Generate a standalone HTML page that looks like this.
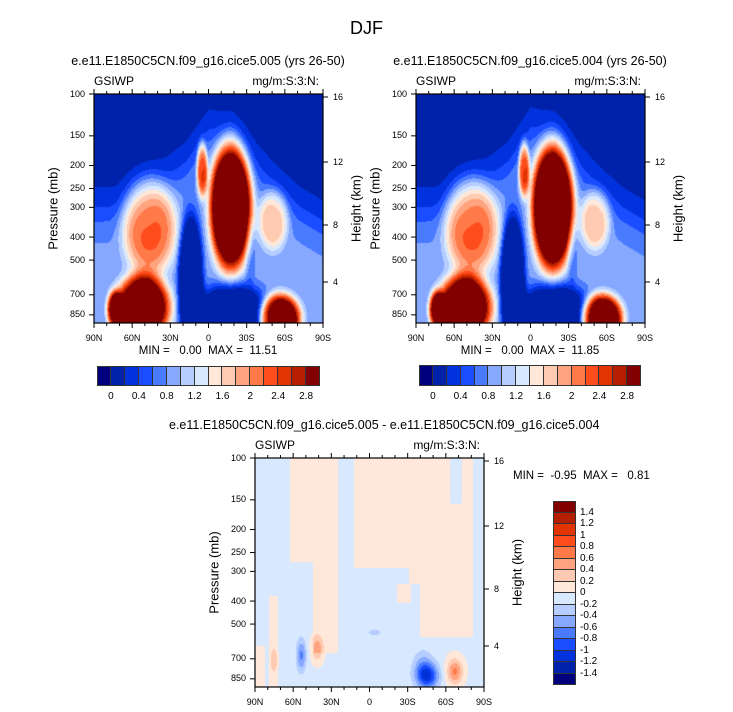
<!DOCTYPE html>
<html><head><meta charset="utf-8"><style>
html,body{margin:0;background:#fff;width:733px;height:712px;overflow:hidden;font-family:"Liberation Sans",sans-serif;}
#root{position:relative;width:733px;height:712px;overflow:hidden;}
.t{position:absolute;white-space:nowrap;color:#000;}
canvas{position:absolute;}
</style></head><body>
<div id="root">
<div class="t" style="left:0;width:733px;text-align:center;top:18px;font-size:18px;">DJF</div>
</div>
<script>
// ---- data ----
const xTickLabels=['90N','60N','30N','0','30S','60S','90S'];
const pTicks=[100,150,200,250,300,400,500,700,850];
const hTicks=[16,12,8,4];
const hTickY=[97,162,225,282];
const topLevels=[0,0.2,0.4,0.6,0.8,1,1.2,1.4,1.6,1.8,2,2.2,2.4,2.6,2.8];
const topLevelLabels=['0','0.4','0.8','1.2','1.6','2','2.4','2.8'];
const diffLevels=[-1.4,-1.2,-1,-0.8,-0.6,-0.4,-0.2,0,0.2,0.4,0.6,0.8,1,1.2,1.4];
const diffLevelLabels=['1.4','1.2','1','0.8','0.6','0.4','0.2','0','-0.2','-0.4','-0.6','-0.8','-1','-1.2','-1.4'];
const colors=['#00007f','#0022aa','#0033dd','#1a4dff','#4a7bff','#86a8ff','#b5cdff','#d8e9ff','#ffe8d9','#ffcab2','#ffa47f','#ff7a48','#ff4c1c','#e23400','#b51f00','#820000'];
// cloud envelope top (v) at u = 0,0.1,...,1
const envTop005=[0.42,0.42,0.37,0.3,0.22,0.08,0.1,0.22,0.33,0.42,0.48];
const envTop004=[0.42,0.42,0.37,0.3,0.22,0.07,0.1,0.22,0.33,0.42,0.48];
// blobs: [u, v, su, sv, amp] (super-gaussian)
const blobs005=[[0.24,0.58,0.1,0.18,1.4],[0.21,0.93,0.1,0.12,3],[0.09,0.94,0.03,0.07,2],[0.595,0.49,0.075,0.23,3.7],[0.47,0.33,0.02,0.1,1.6],[0.78,0.55,0.055,0.11,0.95],[0.81,0.98,0.075,0.09,3],[0.42,0.82,0.045,0.25,-1.6],[0.6,0.98,0.14,0.13,-1.5],[0.68,0.68,0.02,0.12,-0.3]];
const blobs004=[[0.24,0.58,0.1,0.18,1.4],[0.21,0.93,0.1,0.12,3],[0.09,0.94,0.03,0.07,2],[0.595,0.49,0.075,0.23,3.8],[0.47,0.33,0.02,0.1,1.6],[0.78,0.55,0.055,0.11,0.95],[0.81,0.98,0.075,0.09,3.1],[0.42,0.82,0.045,0.25,-1.6],[0.6,0.98,0.14,0.13,-1.5],[0.68,0.68,0.02,0.12,-0.3]];
// diff: rectangles [u0,u1,v0,v1,val] then gaussian blobs
const diffRegions=[[0.15,0.36,0,0.45,0.05],[0.25,0.36,0.45,0.85,0.05],[0.43,0.67,0,0.48,0.05],[0.67,0.95,0,0.55,0.05],[0.72,0.95,0.55,0.78,0.05],[0.85,0.9,0,0.2,-0.05],[0.97,1,0,0.42,-0.05],[0.06,0.1,0.6,1,0.05],[0,0.04,0.82,1,0.05],[0.62,0.68,0.55,0.63,0.05]];
const diffBlobs=[[0.2,0.86,0.015,0.05,-0.6],[0.27,0.83,0.018,0.04,0.5],[0.08,0.88,0.012,0.04,0.3],[0.75,0.95,0.035,0.04,-1.0],[0.73,0.9,0.03,0.05,-0.3],[0.87,0.93,0.025,0.04,0.7],[0.52,0.76,0.02,0.01,-0.3]];
// ---- helpers ----
const root=document.getElementById('root');
function txt(name,s,x,y,size,align,extra){const d=document.createElement('div');d.className='t';


d.textContent=s;d.style.fontSize=size+'px';d.style.top=(y-size*0.6)+'px';
if(align==='c'){d.style.left=(x-200)+'px';d.style.width='400px';d.style.textAlign='center';}
else if(align==='v'){d.style.left=(x-60)+'px';d.style.width='120px';d.style.textAlign='center';d.style.transform='rotate(-90deg)';}
else if(align==='r'){d.style.left=(x-200)+'px';d.style.width='200px';d.style.textAlign='right';}
else d.style.left=x+'px';
if(extra)Object.assign(d.style,extra);root.appendChild(d);return d;}
function pToV(p){return Math.log(p/100)/Math.log(920/100);}
function levelIdx(v,levels){let i=0;while(i<levels.length&&v>=levels[i])i++;return i;}
function envAt(u,arr){const x=u*10,i=Math.min(9,Math.floor(x)),f=x-i;return arr[i]*(1-f)+arr[i+1]*f;}
function topField(u,v,blobs,env){const v0=envAt(u,env);let s=0.1+0.78/(1+Math.exp(-(v-v0-0.1)/0.06));
 for(const b of blobs){const du=(u-b[0])/b[2],dv=(v-b[1])/b[3];const r2=du*du+dv*dv;s+=b[4]*Math.exp(-0.5*r2*r2);}
 return Math.max(0.05,s);}
function diffField(u,v,blobs,regions){let s=-0.05;for(const r of regions){if(u>=r[0]&&u<r[1]&&v>=r[2]&&v<r[3])s=r[4];}
 for(const b of blobs){const du=(u-b[0])/b[2],dv=(v-b[1])/b[3];s+=b[4]*Math.exp(-0.5*(du*du+dv*dv));}
 return s;}
function panel(name,L,T,W,H,fn,levels){
 const c=document.createElement('canvas');c.width=W;c.height=H;c.style.left=L+'px';c.style.top=T+'px';
 
 
 root.appendChild(c);const g=c.getContext('2d');
 for(let y=0;y<H;y++)for(let x=0;x<W;x++){const val=fn(x/W,y/H);g.fillStyle=colors[levelIdx(val,levels)];g.fillRect(x,y,1,1);}
 const ns='http://www.w3.org/2000/svg';const s=document.createElementNS(ns,'svg');
 s.setAttribute('width',W+20);s.setAttribute('height',H+20);s.style.position='absolute';s.style.left=(L-10)+'px';s.style.top=(T-10)+'px';s.style.overflow='visible';
 
 
 const ln=(x1,y1,x2,y2,w)=>{const l=document.createElementNS(ns,'line');l.setAttribute('x1',x1+10);l.setAttribute('y1',y1+10);l.setAttribute('x2',x2+10);l.setAttribute('y2',y2+10);l.setAttribute('stroke','#000');l.setAttribute('stroke-width',w||1);s.appendChild(l);};
 const r=document.createElementNS(ns,'rect');r.setAttribute('x',10);r.setAttribute('y',10);r.setAttribute('width',W);r.setAttribute('height',H);r.setAttribute('fill','none');r.setAttribute('stroke','#000');r.setAttribute('stroke-width',1.2);s.appendChild(r);
 for(let i=0;i<=18;i++){const x=i*W/18,len=i%3===0?5:3;ln(x,H,x,H+len);ln(x,0,x,-len);}
 xTickLabels.forEach((t,i)=>txt(name+'-x-tick-label',t,L+i*W/6,T+H+15,9,'c'));
 pTicks.forEach(p=>{const y=pToV(p)*H;ln(0,y,-5,y);txt(name+'-p-tick-label',String(p),L-9,T+y,9,'r');});
 hTicks.forEach((h,i)=>{const y=hTickY[i]-94;ln(W,y,W+5,y);txt(name+'-h-tick-label',String(h),L+W+10,T+y,9);});
 root.appendChild(s);
 txt(name+'-y-axis-title','Pressure (mb)',L-41,T+H/2,13,'v');
 txt(name+'-y2-axis-title','Height (km)',L+W+33,T+H/2,13,'v');
 txt(name+'-variable-label','GSIWP',L,T-13,12);
 txt(name+'-units-label','mg/m:S:3:N:',L+W-4,T-13,12,'r');
}
function hbar(name,L,T,W,H){for(let i=0;i<16;i++){const d=document.createElement('div');
 
 
 Object.assign(d.style,{position:'absolute',left:(L+i*W/16)+'px',top:T+'px',width:(W/16)+'px',height:H+'px',background:colors[i],boxSizing:'border-box',borderRight:i<15?'1px solid #333':'none'});root.appendChild(d);}
 const b=document.createElement('div');
 
 Object.assign(b.style,{position:'absolute',left:L+'px',top:T+'px',width:W+'px',height:H+'px',border:'1px solid #333',boxSizing:'border-box'});root.appendChild(b);
 topLevelLabels.forEach((t,i)=>txt(name+'-label',t,L+(1+2*i)*W/16,T+H+11,10,'c'));}
panel('panel-005',94,94,229,229,(u,v)=>topField(u,v,blobs005,envTop005),topLevels);
panel('panel-004',416,94,229,229,(u,v)=>topField(u,v,blobs004,envTop004),topLevels);
panel('panel-diff',255,458,229,229,(u,v)=>diffField(u,v,diffBlobs,diffRegions),diffLevels);
txt('subtitle-005','e.e11.E1850C5CN.f09_g16.cice5.005 (yrs 26-50)',208,61,12.5,'c');
txt('subtitle-004','e.e11.E1850C5CN.f09_g16.cice5.004 (yrs 26-50)',530,61,12.5,'c');
txt('subtitle-diff','e.e11.E1850C5CN.f09_g16.cice5.005 - e.e11.E1850C5CN.f09_g16.cice5.004',369,425,12.5,'c');
txt('minmax-005','MIN =   0.00  MAX =  11.51',208,352,11.5,'c',{whiteSpace:'pre'});
txt('minmax-004','MIN =   0.00  MAX =  11.85',530,352,11.5,'c',{whiteSpace:'pre'});
txt('minmax-diff','MIN =  -0.95  MAX =   0.81',513,477,11.5,null,{whiteSpace:'pre'});
hbar('colorbar-005',97,366,223,20);
hbar('colorbar-004',419,365,222,21);
(function(){const L=553,T=501,W=23,H=184;for(let i=0;i<16;i++){const d=document.createElement('div');
 
 
 Object.assign(d.style,{position:'absolute',left:L+'px',top:(T+i*H/16)+'px',width:W+'px',height:(H/16)+'px',background:colors[15-i],boxSizing:'border-box',borderBottom:i<15?'1px solid #333':'none'});root.appendChild(d);}
 const b=document.createElement('div');
 
 Object.assign(b.style,{position:'absolute',left:L+'px',top:T+'px',width:W+'px',height:H+'px',border:'1px solid #333',boxSizing:'border-box'});root.appendChild(b);
 diffLevelLabels.forEach((t,i)=>txt('colorbar-diff-label',t,L+W+4,T+(i+1)*H/16,10));})();
</script>
</body></html>
